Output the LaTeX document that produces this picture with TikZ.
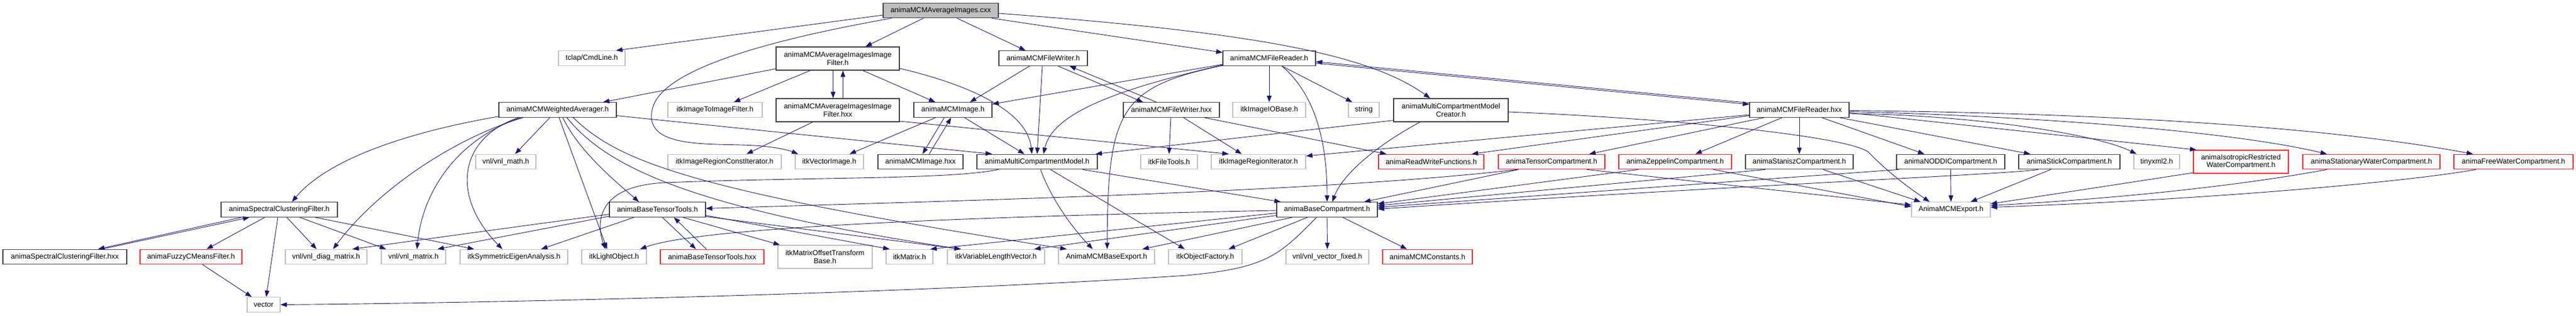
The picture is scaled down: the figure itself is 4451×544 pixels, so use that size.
\documentclass[tikz,border=0pt]{standalone}
\usepackage{fontspec}
\usepackage{tikz}
\usetikzlibrary{arrows.meta,positioning,calc}
\newfontfamily\doxfam{Liberation Sans}
\definecolor{edgeblue}{HTML}{191970}
\definecolor{extgray}{HTML}{BFBFBF}
\definecolor{docgray}{HTML}{404040}
\definecolor{truncred}{HTML}{FF2020}
\tikzstyle{doc} = [rectangle, draw=docgray, line width=1.3pt, fill=white, inner sep=2pt, minimum height=25.5, align=center, font=\doxfam\fontsize{12.5}{13.5}\selectfont]
\tikzstyle{ext} = [doc, draw=extgray]
\tikzstyle{trunc} = [doc, draw=truncred]
\tikzstyle{root} = [doc, fill=extgray]
\tikzstyle{dep} = [->, draw=edgeblue, line width=0.9pt]

\begin{document}
\begin{tikzpicture}[x=1pt, y=-1pt, >={Triangle[length=11pt,width=8pt]}]
    \useasboundingbox (0,0) rectangle (4451,544);

    \node[root, minimum width=199] (cxx) at (1625.5,18) {animaMCMAverageImages.cxx};

    % rang 1
    \node[ext, minimum width=115] (tclap) at (1022.5,100.5) {tclap/CmdLine.h};
    \node[doc, minimum width=213, minimum height=40] (aiifh) at (1447.5,101) {animaMCMAverageImagesImage\\Filter.h};
    \node[doc, minimum width=153] (fwh) at (1802.5,100.5) {animaMCMFileWriter.h};
    \node[doc, minimum width=160] (frh) at (2193,100.5) {animaMCMFileReader.h};

    % rang 2
    \node[doc, minimum width=203] (wa) at (963.5,189.5) {animaMCMWeightedAverager.h};
    \node[ext, minimum width=163] (itki2i) at (1235.5,189.5) {itkImageToImageFilter.h};
    \node[doc, minimum width=213, minimum height=40] (aiifhxx) at (1447.5,190) {animaMCMAverageImagesImage\\Filter.hxx};
    \node[doc, minimum width=135] (mcmimg) at (1646.5,189.5) {animaMCMImage.h};
    \node[doc, minimum width=166] (fwhxx) at (2024,189.5) {animaMCMFileWriter.hxx};
    \node[ext, minimum width=126] (iobase) at (2193,189.5) {itkImageIOBase.h};
    \node[ext, minimum width=53] (str) at (2356.5,189.5) {string};
    \node[doc, minimum width=198, minimum height=40] (creator) at (2507,190) {animaMultiCompartmentModel\\Creator.h};
    \node[doc, minimum width=172] (frhxx) at (3109,189.5) {animaMCMFileReader.hxx};

    % rang 3
    \node[ext, minimum width=104] (vmath) at (874,279) {vnl/vnl\_math.h};
    \node[ext, minimum width=196] (rconst) at (1252,279) {itkImageRegionConstIterator.h};
    \node[ext, minimum width=118] (vecimg) at (1433,279) {itkVectorImage.h};
    \node[doc, minimum width=147] (mcmimghxx) at (1590.5,279) {animaMCMImage.hxx};
    \node[doc, minimum width=208] (mcm) at (1792,279) {animaMultiCompartmentModel.h};
    \node[ext, minimum width=98] (ftools) at (2020,279) {itkFileTools.h};
    \node[ext, minimum width=163] (riter) at (2174.5,279) {itkImageRegionIterator.h};
    \node[trunc, minimum width=182] (rw) at (2473,279) {animaReadWriteFunctions.h};
    \node[trunc, minimum width=184] (tensor) at (2681,279) {animaTensorCompartment.h};
    \node[trunc, minimum width=195] (zeppelin) at (2894.5,279) {animaZeppelinCompartment.h};
    \node[doc, minimum width=186] (stanisz) at (3109,279) {animaStaniszCompartment.h};
    \node[doc, minimum width=187] (noddi) at (3370.5,279) {animaNODDICompartment.h};
    \node[doc, minimum width=175] (stick) at (3575.5,279) {animaStickCompartment.h};
    \node[ext, minimum width=79] (tinyxml) at (3726.5,279) {tinyxml2.h};
    \node[trunc, minimum width=164, minimum height=40] (isor) at (3872,279) {animaIsotropicRestricted\\WaterCompartment.h};
    \node[trunc, minimum width=237] (stationary) at (4097.5,279) {animaStationaryWaterCompartment.h};
    \node[trunc, minimum width=206] (freewater) at (4343,279) {animaFreeWaterCompartment.h};

    % rang 4
    \node[doc, minimum width=201] (scf) at (482.5,361.5) {animaSpectralClusteringFilter.h};
    \node[doc, minimum width=166] (btt) at (1136,361.5) {animaBaseTensorTools.h};
    \node[doc, minimum width=174] (basecomp) at (2293,361.5) {animaBaseCompartment.h};
    \node[ext, minimum width=136] (mcmexport) at (3371,361.5) {AnimaMCMExport.h};

    % rang 5
    \node[doc, minimum width=214] (scfhxx) at (112,443) {animaSpectralClusteringFilter.hxx};
    \node[trunc, minimum width=176] (fuzzy) at (330,443) {animaFuzzyCMeansFilter.h};
    \node[ext, minimum width=141] (diag) at (563.5,443) {vnl/vnl\_diag\_matrix.h};
    \node[ext, minimum width=111] (vmat) at (714.5,443) {vnl/vnl\_matrix.h};
    \node[ext, minimum width=186] (symeig) at (888,443) {itkSymmetricEigenAnalysis.h};
    \node[ext, minimum width=112] (light) at (1061,443) {itkLightObject.h};
    \node[trunc, minimum width=179] (btthxx) at (1230.5,443) {animaBaseTensorTools.hxx};
    \node[ext, minimum width=163, minimum height=40] (mot) at (1425.5,443) {itkMatrixOffsetTransform\\Base.h};
    \node[ext, minimum width=81] (itkmat) at (1571.5,443) {itkMatrix.h};
    \node[ext, minimum width=168] (vlv) at (1721,443) {itkVariableLengthVector.h};
    \node[ext, minimum width=166] (baseexport) at (1912,443) {AnimaMCMBaseExport.h};
    \node[ext, minimum width=127] (objfac) at (2082.5,443) {itkObjectFactory.h};
    \node[ext, minimum width=143] (vfixed) at (2293.5,443) {vnl/vnl\_vector\_fixed.h};
    \node[trunc, minimum width=155] (consts) at (2466.5,443) {animaMCMConstants.h};

    % rang 6
    \node[ext, minimum width=57] (vec) at (455.5,525.5) {vector};

    % animaMCMAverageImages.cxx
    \draw[dep] ([yshift=-8]cxx.west) -- ([xshift=42]tclap.north);
    \draw[dep] ([xshift=-85]cxx.south) .. controls (1380,60) and (1150,110) .. (1128,185) .. controls (1110,250) and (1200,248) .. (1280,250) .. controls (1330,251) and (1360,258) .. ([xshift=-54]vecimg.north);
    \draw[dep] ([xshift=-30]cxx.south) -- ([xshift=48]aiifh.north);
    \draw[dep] ([xshift=28]cxx.south) -- ([xshift=-30.5]fwh.north);
    \draw[dep] ([xshift=88]cxx.south) -- ([yshift=10]frh.west);
    \draw[dep] ([yshift=-5]cxx.east) .. controls (2150,55) and (2360,90) .. ([xshift=-36]creator.north);

    % filtre moyen
    \draw[dep] ([yshift=3]aiifh.south west) -- ([xshift=78.5]wa.north);
    \draw[dep] ([xshift=-47.5]aiifh.south) -- ([xshift=32.5]itki2i.north);
    \draw[dep] ([xshift=-8]aiifh.south) -- ([xshift=-8]aiifhxx.north);
    \draw[dep] ([xshift=9]aiifhxx.north) -- ([xshift=9]aiifh.south);
    \draw[dep] ([xshift=43.5]aiifh.south) -- ([xshift=-30.5]mcmimg.north);
    \draw[dep] ([yshift=-17]aiifh.east) .. controls (1670,145) and (1775,190) .. ([xshift=-9]mcm.north);
    \draw[dep] ([xshift=-43.5]aiifhxx.south) -- ([xshift=38]rconst.north);
    \draw[dep] ([yshift=-19]aiifhxx.east) -- ([xshift=-51.5]riter.north);

    % ecriture
    \draw[dep] ([xshift=-23.5]fwh.south) -- ([xshift=29.5]mcmimg.north);
    \draw[dep] ([xshift=-1.5]fwh.south) -- (mcm.north);
    \draw[dep] ([xshift=25.5]fwh.south) -- ([xshift=-49]fwhxx.north);
    \draw[dep] ([xshift=-26]fwhxx.north) -- ([xshift=45.5]fwh.south);
    \draw[dep] ([xshift=-1]fwhxx.south) -- (ftools.north);
    \draw[dep] ([xshift=21]fwhxx.south) -- ([xshift=-29]riter.north);
    \draw[dep] ([xshift=57]fwhxx.south) -- ([xshift=-77.5]rw.north);

    % lecture
    \draw[dep] ([yshift=-10.5]frh.west) -- ([yshift=10]mcmimg.east);
    \draw[dep] ([yshift=-11.5]frh.west) .. controls (1950,150) and (1820,190) .. ([xshift=11]mcm.north);
    \draw[dep] ([yshift=-12.5]frh.west) .. controls (1935,150) and (1914,190) .. ([xshift=1]baseexport.north);
    \draw[dep] (frh.south) -- (iobase.north);
    \draw[dep] ([xshift=22]frh.south) -- ([xshift=-20]str.north);
    \draw[dep] ([xshift=22]frh.south) .. controls (2275,165) and (2293,250) .. (basecomp.north);
    \draw[dep] ([yshift=-8.5]frh.east) -- ([yshift=9.5]frhxx.west);
    \draw[dep] ([yshift=12]frhxx.west) -- ([yshift=-6]frh.east);
    \draw[dep] ([yshift=-8.5]frhxx.west) -- ([yshift=10]riter.east);
    \draw[dep] ([yshift=-10]frhxx.west) -- ([xshift=70]rw.north);
    \draw[dep] ([xshift=-61]frhxx.south) -- ([xshift=65]tensor.north);
    \draw[dep] ([xshift=-30]frhxx.south) -- ([xshift=35]zeppelin.north);
    \draw[dep] (frhxx.south) -- (stanisz.north);
    \draw[dep] ([xshift=39]frhxx.south) -- ([xshift=-45.5]noddi.north);
    \draw[dep] ([xshift=70]frhxx.south) -- ([xshift=-67.5]stick.north);
    \draw[dep] ([yshift=-6.5]frhxx.east) .. controls (3400,198) and (3620,230) .. ([xshift=-35]tinyxml.north);
    \draw[dep] ([yshift=-5]frhxx.east) -- ([xshift=-77]isor.north);
    \draw[dep] ([yshift=-3]frhxx.east) .. controls (3500,200) and (3850,225) .. ([xshift=-77]stationary.north);
    \draw[dep] ([yshift=-1]frhxx.east) .. controls (3600,195) and (4000,215) .. ([xshift=-70]freewater.north);

    % createur
    \draw[dep] ([yshift=3]creator.south west) -- ([xshift=101]mcm.north);
    \draw[dep] ([xshift=-53.5]creator.south) .. controls (2380,250) and (2320,300) .. ([xshift=9]basecomp.north);
    \draw[dep] ([yshift=-3]creator.east) .. controls (2900,205) and (3190,235) .. (3228,262) .. controls (3265,300) and (3300,325) .. ([xshift=-37]mcmexport.north);

    % moyenneur
    \draw[dep] ([yshift=2]wa.south west) .. controls (720,225) and (570,270) .. ([xshift=22]scf.north);
    \draw[dep] ([xshift=-60]wa.south) .. controls (780,240) and (650,330) .. ([xshift=12]diag.north);
    \draw[dep] ([xshift=-64]wa.south) .. controls (790,240) and (730,330) .. ([xshift=6]vmat.north);
    \draw[dep] ([xshift=-68]wa.south) .. controls (790,240) and (780,340) .. ([xshift=-20]symeig.north);
    \draw[dep] ([xshift=-13.5]wa.south) -- ([xshift=16]vmath.north);
    \draw[dep] ([xshift=2.5]wa.south) -- ([xshift=-12]light.north);
    \draw[dep] ([xshift=9]wa.south) .. controls (1000,260) and (1060,310) .. ([xshift=-32]btt.north);
    \draw[dep] ([xshift=16]wa.south) .. controls (1050,290) and (1200,360) .. ([xshift=-61]vlv.north);
    \draw[dep] ([xshift=27]wa.south) .. controls (1070,280) and (1200,330) .. ([xshift=-69]baseexport.north);
    \draw[dep] ([yshift=-10]wa.east) -- ([xshift=-78]mcm.north);

    % images MCM
    \draw[dep] ([xshift=-30]mcmimg.south) -- ([xshift=35]vecimg.north);
    \draw[dep] ([xshift=-15]mcmimg.south) -- ([xshift=3.5]mcmimghxx.north);
    \draw[dep] ([xshift=15]mcmimghxx.north) -- ([xshift=-3]mcmimg.south);
    \draw[dep] ([xshift=20]mcmimg.south) -- ([xshift=-22]mcm.north);

    % modele
    \draw[dep] ([xshift=-67]mcm.south) .. controls (1640,310) and (1400,305) .. (1150,315) .. controls (1030,320) and (1030,385) .. ([xshift=-15]light.north);
    \draw[dep] ([xshift=6]mcm.south) .. controls (1815,340) and (1850,390) .. ([xshift=-24]baseexport.north);
    \draw[dep] ([xshift=23]mcm.south) -- ([xshift=-35.5]objfac.north);
    \draw[dep] ([xshift=78.5]mcm.south) -- ([xshift=-80]basecomp.north);

    % clustering
    \draw[dep] ([xshift=-65.5]scf.south) -- ([xshift=57.5]scfhxx.north);
    \draw[dep] ([xshift=64]scfhxx.north) -- ([xshift=-51.5]scf.south);
    \draw[dep] ([xshift=-25]scf.south) -- ([xshift=27]fuzzy.north);
    \draw[dep] ([xshift=-2.5]scf.south) -- ([xshift=4.5]vec.north);
    \draw[dep] ([xshift=13]scf.south) -- ([xshift=-16.5]diag.north);
    \draw[dep] ([xshift=35.5]scf.south) -- ([xshift=-47.5]vmat.north);
    \draw[dep] ([xshift=62]scf.south) -- ([xshift=-69]symeig.north);
    \draw[dep] ([xshift=20]fuzzy.south) -- ([xshift=-20.5]vec.north);

    % tenseurs
    \draw[dep] ([yshift=-8]btt.west) -- ([xshift=45.5]diag.north);
    \draw[dep] ([yshift=-11.5]btt.west) -- ([xshift=41.5]vmat.north);
    \draw[dep] ([xshift=-40.5]btt.south) -- ([xshift=47]symeig.north);
    \draw[dep] ([xshift=8.5]btt.south) -- ([xshift=-28]btthxx.north);
    \draw[dep] ([xshift=-10]btthxx.north) -- ([xshift=28.5]btt.south);
    \draw[dep] ([xshift=44]btt.south) -- ([xshift=-78]mot.north);
    \draw[dep] ([yshift=-10]btt.east) -- ([xshift=-34.5]itkmat.north);
    \draw[dep] ([yshift=-12]btt.east) -- ([xshift=-61]vlv.north);

    % compartiment de base
    \draw[dep] ([yshift=-1.5]basecomp.west) .. controls (1600,375) and (1200,395) .. ([xshift=45]light.north);
    \draw[dep] ([yshift=-6]basecomp.west) -- ([xshift=36]itkmat.north);
    \draw[dep] ([yshift=-10]basecomp.west) -- ([xshift=66]vlv.north);
    \draw[dep] ([xshift=-60]basecomp.south) -- ([xshift=62]baseexport.north);
    \draw[dep] ([xshift=-34]basecomp.south) -- ([xshift=40.5]objfac.north);
    \draw[dep] ([xshift=-18]basecomp.south) .. controls (2210,440) and (2190,462) .. (2050,475) .. controls (1600,505) and (900,522) .. (vec.east);
    \draw[dep] (basecomp.south) -- (vfixed.north);
    \draw[dep] ([xshift=27]basecomp.south) -- ([xshift=-35.5]consts.north);

    % compartiments
    \draw[dep] ([xshift=-57]tensor.south) -- ([xshift=64]basecomp.north);
    \draw[dep] ([xshift=-60]tensor.south) .. controls (2300,330) and (1700,345) .. ([yshift=2]btt.east);
    \draw[dep] ([xshift=61]tensor.south) -- ([yshift=8]mcmexport.west);
    \draw[dep] ([xshift=-64]zeppelin.south) -- ([yshift=10]basecomp.east);
    \draw[dep] ([xshift=66]zeppelin.south) -- ([yshift=5]mcmexport.west);
    \draw[dep] ([xshift=-59]stanisz.south) -- ([yshift=7]basecomp.east);
    \draw[dep] ([xshift=41]stanisz.south) -- ([xshift=-52.5]mcmexport.north);
    \draw[dep] ([xshift=-90]noddi.south) -- ([yshift=4]basecomp.east);
    \draw[dep] (noddi.south) -- (mcmexport.north);
    \draw[dep] ([xshift=-54]stick.south) .. controls (3480,300) and (3000,320) .. ([yshift=1]basecomp.east);
    \draw[dep] ([xshift=-32]stick.south) -- ([xshift=34]mcmexport.north);
    \draw[dep] ([yshift=-19]isor.west) -- ([yshift=10]mcmexport.east);
    \draw[dep] ([xshift=-77]stationary.south) .. controls (3900,315) and (3700,340) .. ([yshift=7]mcmexport.east);
    \draw[dep] ([xshift=-65]freewater.south) .. controls (4150,315) and (3800,345) .. ([yshift=4]mcmexport.east);
\end{tikzpicture}
\end{document}
